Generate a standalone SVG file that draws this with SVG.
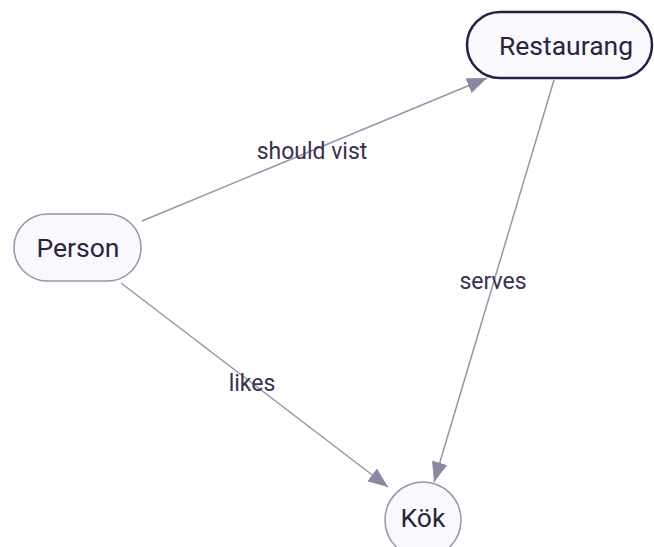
<svg xmlns="http://www.w3.org/2000/svg" width="654" height="547" viewBox="0 0 654 547">
<style>
.node{fill:#f9f8fc;stroke:#9a93ab;stroke-width:1.5}
.sel{fill:#f9f8fc;stroke:#2b1d48;stroke-width:2.5}
.nt{font-family:Roboto,"Liberation Sans",sans-serif;font-size:26.5px;fill:#2b2240;text-anchor:middle;dominant-baseline:central}
.el{font-family:Roboto,"Liberation Sans",sans-serif;font-size:23px;fill:#3a3050;text-anchor:middle;dominant-baseline:central}
.edge{stroke:#9a93ab;stroke-width:1.5;fill:none}
</style>
<defs>
<marker id="arr" viewBox="0 0 20 16" refX="20" refY="8" markerWidth="20" markerHeight="16" markerUnits="userSpaceOnUse" orient="auto">
<path d="M0,0 L20,8 L0,16 Z" fill="#8e87a2"/>
</marker>
</defs>
<rect width="654" height="547" fill="#ffffff"/>
<g id="edges">
<line class="edge" x1="142" y1="221" x2="487" y2="78" marker-end="url(#arr)"/>
<line class="edge" x1="554" y1="80" x2="434" y2="482" marker-end="url(#arr)"/>
<line class="edge" x1="121" y1="283" x2="388" y2="487" marker-end="url(#arr)"/>
<text class="el" x="312" y="151">should vist</text>
<text class="el" x="493" y="281">serves</text>
<text class="el" x="252" y="383">likes</text>
</g>
<g id="node-restaurang">
<rect class="sel" x="467" y="12" width="185" height="66" rx="33"/>
<text class="nt" x="566" y="45">Restaurang</text>
</g>
<g id="node-person">
<rect class="node" x="14" y="214" width="127" height="67" rx="33.5"/>
<text class="nt" x="78" y="247">Person</text>
</g>
<g id="node-kok">
<circle class="node" cx="423" cy="520" r="38"/>
<text class="nt" x="423" y="517">Kök</text>
</g>
</svg>
